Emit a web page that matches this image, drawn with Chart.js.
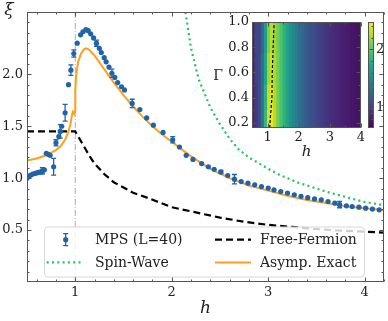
<!DOCTYPE html>
<html><head><meta charset="utf-8">
<script src="https://cdn.jsdelivr.net/npm/chart.js@4/dist/chart.umd.min.js"></script>
<style>
html,body{margin:0;padding:0;background:#fff;}
#wrap{position:relative;width:388px;height:321px;overflow:hidden;}
#wrap canvas{position:absolute;left:0;top:0;}
</style></head><body>
<div id="wrap">
<canvas id="main" width="388" height="321"></canvas>
<canvas id="inset" width="388" height="321"></canvas>
<canvas id="cbar" width="388" height="321"></canvas>
</div>
<script>
// ---------------- DATA ----------------
const xTicks = [1, 2, 3, 4];
const yTicks = [0.5, 1.0, 1.5, 2.0];
const refLineH = [1];

const mpsH = [0.50,0.52,0.54,0.56,0.58,0.60,0.62,0.64,0.66,0.68,
  0.70,0.72,0.74,0.776,0.80,0.83,0.845,0.86,0.895,0.93,
  0.955,0.985,1.02,1.055,1.08,1.11,1.135,1.16,1.19,1.22,
  1.25,1.27,1.30,1.32,1.35,1.38,1.41,1.44,1.48,1.51,
  1.59,1.67,1.74,1.81,1.91,2.01,2.08,
  2.15,2.22,2.31,2.38,2.44,2.51,2.58,2.65,2.72,2.79,
  2.86,2.93,3.00,3.06,3.13,3.20,3.27,3.34,3.41,3.48,
  3.55,3.62,3.69,3.74,3.81,3.87,3.94,4.01,4.08,4.15];
const mpsXi = [1.00,1.02,1.03,1.04,1.045,1.05,1.055,1.06,1.07,1.08,
  1.24,1.23,1.22,1.11,1.34,1.40,1.45,1.50,1.63,1.90,
  2.04,2.20,2.30,2.38,2.41,2.43,2.42,2.39,2.35,2.30,
  2.25,2.21,2.16,2.12,2.07,2.01,1.97,1.92,1.88,1.85,
  1.72,1.66,1.58,1.51,1.44,1.37,1.30,
  1.22,1.18,1.14,1.11,1.085,1.06,1.025,0.99,0.967,0.952,
  0.936,0.919,0.904,0.887,0.871,0.856,0.84,0.825,0.812,0.80,
  0.791,0.775,0.76,0.745,0.734,0.727,0.721,0.711,0.702,0.695];
const mpsErr = [0,0,0,0,0,0,0,0,0.03,0,
  0,0,0,0.08,0.03,0,0.065,0,0.08,0,
  0.05,0.035,0,0,0,0,0,0,0,0.03,
  0,0,0,0,0,0.04,0,0,0,0,
  0.04,0,0,0,0,0.03,0,
  0,0,0,0,0,0.015,0,0.045,0,0,
  0,0,0,0,0,0,0,0,0,0,
  0,0,0,0.03,0,0,0,0,0,0];

const swH  = [2.10,2.15,2.20,2.28,2.40,2.50,2.60,2.70,2.80,3.00,3.12,3.30,3.60,3.80,4.00,4.20];
const swXi = [2.85,2.55,2.25,1.95,1.68,1.52,1.38,1.27,1.20,1.09,1.03,0.96,0.87,0.82,0.77,0.74];

const ffH  = [0.5,1.0,1.05,1.1,1.15,1.2,1.3,1.4,1.5,1.6,1.75,2.0,2.25,2.5,2.75,3.0,3.25,3.5,3.75,4.0,4.2];
const ffXi = [1.45,1.45,1.37,1.29,1.21,1.14,1.04,0.96,0.91,0.86,0.81,0.72,0.67,0.62,0.58,0.55,0.53,0.51,0.495,0.485,0.475];

const aeH  = [0.5,0.6,0.7,0.8,0.85,0.9,0.93,0.95,0.965,0.975,0.99,1.0,1.001,1.01,1.03,1.06,1.09,1.11,1.14,1.2,1.3,1.4,1.5,1.6,1.7,1.8,1.9,2.0,2.1,2.2,2.4,2.6,2.8,3.0,3.2,3.4,3.6,3.8,4.0,4.2];
const aeXi = [1.17,1.19,1.22,1.27,1.31,1.38,1.45,1.52,1.60,1.64,1.62,1.66,1.85,2.00,2.12,2.20,2.24,2.25,2.24,2.18,2.05,1.92,1.80,1.69,1.59,1.50,1.42,1.35,1.28,1.21,1.09,1.00,0.93,0.88,0.83,0.79,0.76,0.73,0.71,0.69];

// inset heat map: column centres in h, rows in Gamma
const heatH = [0.55,0.65,0.75,0.85,0.95,1.05,1.15,1.25,1.35,1.45,1.55,1.65,1.75,1.85,1.95,2.05,2.15,2.25,2.35,2.45,2.55,2.65,2.75,2.85,2.95,3.05,3.15,3.25,3.35,3.45,3.55,3.65,3.75,3.85,3.95];
const heatGammaEdges = [0.16,0.30,0.50,0.75,1.00];
const heatHead = [
  [0.85,0.95,1.05,1.35,1.85,2.35,2.42,2.25],
  [0.84,0.96,1.06,1.33,1.80,2.30,2.40,2.24],
  [0.83,1.00,1.05,1.30,1.72,2.20,2.33,2.22],
  [0.82,1.05,1.02,1.25,1.65,2.10,2.28,2.20]
];
const heatTail = [2.08,1.95,1.82,1.70,1.58,1.49,1.40,1.32,1.25,1.19,1.13,1.09,1.05,1.01,0.98,0.95,0.92,0.89,0.87,0.85,0.83,0.81,0.79,0.78,0.76,0.75,0.74];
const peakH = [1.07,1.09,1.11,1.14,1.15,1.18,1.21];
const peakG = [0.16,0.25,0.30,0.40,0.60,0.80,1.00];
const insetXTicks = [1,2,3,4];
const insetYTicks = [0.2,0.4,0.6,0.8,1.0];
const cbarTicks = [1,2];
const cMin = 0.65, cMax = 2.47;

// ---------------- STYLE ----------------
Chart.defaults.font.family = "'DejaVu Serif', serif";
Chart.defaults.color = '#222';
const C = {blue:'#1f63ab', green:'#22c35c', orange:'#ff9f1f', black:'#000', ref:'#b0b0b0', frame:'#555'};
const viridisStops = ['#440154','#482475','#414487','#355f8d','#2a788e','#21918c','#22a884','#44bf70','#7ad151','#bddf26','#fde725'];
function hex2rgb(h){return [1,3,5].map(i=>parseInt(h.substr(i,2),16));}
function viridis(v){
  let t=(v-cMin)/(cMax-cMin); t=Math.max(0,Math.min(1,t));
  const p=t*10, i=Math.min(9,Math.floor(p)), f=p-i;
  const a=hex2rgb(viridisStops[i]), b=hex2rgb(viridisStops[i+1]);
  return 'rgb('+a.map((c,k)=>Math.round(c+(b[k]-c)*f)).join(',')+')';
}
function pts(xs, ys){ return xs.map((x,i)=>({x:x, y:ys[i]})); }
function range(a,b,s){const r=[];for(let v=a;v<=b+1e-9;v+=s)r.push(Math.round(v*1000)/1000);return r;}

function frameTicks(id, cfg){
  return {id:id, afterDraw(chart){
    const ctx=chart.ctx, a=chart.chartArea, xs=chart.scales.x, ys=chart.scales.y;
    ctx.save(); ctx.strokeStyle=C.frame; ctx.lineWidth=1;
    const L=Math.round(a.left)+0.5, R=Math.round(a.right)-0.5, T=Math.round(a.top)+0.5, B=Math.round(a.bottom)-0.5;
    ctx.beginPath();
    const xt=(vals,len)=>vals.forEach(v=>{const p=Math.round(xs.getPixelForValue(v))+0.5;
      ctx.moveTo(p,B);ctx.lineTo(p,B-len); if(cfg.top){ctx.moveTo(p,T);ctx.lineTo(p,T+len);} });
    const yt=(vals,len)=>vals.forEach(v=>{const p=Math.round(ys.getPixelForValue(v))+0.5;
      if(cfg.left){ctx.moveTo(L,p);ctx.lineTo(L+len,p);} if(cfg.right){ctx.moveTo(R,p);ctx.lineTo(R-len,p);} });
    if(cfg.xMajor){xt(cfg.xMajor,4); xt(cfg.xMinor||[],2);}
    if(cfg.yMajor){yt(cfg.yMajor,4); yt(cfg.yMinor||[],2);}
    ctx.stroke();
    ctx.strokeRect(L,T,R-L,B-T);
    ctx.restore();
  }};
}

// error bars through the scales
const errorBars = {id:'errorBars', afterDatasetsDraw(chart){
  const ctx=chart.ctx, xs=chart.scales.x, ys=chart.scales.y;
  chart.data.datasets.forEach(ds=>{
    if(!ds.errs) return;
    ctx.save(); ctx.strokeStyle=ds.pointBackgroundColor; ctx.lineWidth=1.3; ctx.beginPath();
    ds.data.forEach((p,i)=>{const e=ds.errs[i]; if(!e) return;
      const x=xs.getPixelForValue(p.x), y1=ys.getPixelForValue(p.y-e), y2=ys.getPixelForValue(p.y+e);
      ctx.moveTo(x,y1);ctx.lineTo(x,y2);ctx.moveTo(x-2.5,y1);ctx.lineTo(x+2.5,y1);ctx.moveTo(x-2.5,y2);ctx.lineTo(x+2.5,y2);});
    ctx.stroke(); ctx.restore();
  });
}};

// matplotlib-like legend (2 columns)
const mplLegend = {id:'mplLegend', afterDatasetsDraw(chart){
  const ctx=chart.ctx, a=chart.chartArea;
  const x0=a.left+17, y0=a.bottom-55.5, w=320, h=50;
  ctx.save();
  ctx.fillStyle='rgba(255,255,255,0.8)'; ctx.strokeStyle='#d6d6d6'; ctx.lineWidth=1;
  ctx.beginPath(); ctx.roundRect(x0+0.5,y0+0.5,w,h,4); ctx.fill(); ctx.stroke();
  const items=chart.data.datasets.filter(d=>d.legendSlot!==undefined).sort((p,q)=>p.legendSlot-q.legendSlot);
  const colX=[a.left+19.7, a.left+188], txtX=[a.left+68, a.left+233], rowY=[a.bottom-42.3, a.bottom-19.6];
  items.forEach((d,k)=>{
    const col=Math.floor(k/2), row=k%2, hx=colX[col], y=rowY[row];
    ctx.save();
    if(d.errs){
      const cx=hx+19; ctx.strokeStyle=d.pointBackgroundColor; ctx.lineWidth=1.3; ctx.beginPath();
      ctx.moveTo(cx,y-6);ctx.lineTo(cx,y+6);ctx.moveTo(cx-2.5,y-6);ctx.lineTo(cx+2.5,y-6);ctx.moveTo(cx-2.5,y+6);ctx.lineTo(cx+2.5,y+6);ctx.stroke();
      ctx.fillStyle=d.pointBackgroundColor; ctx.beginPath(); ctx.arc(cx,y,2.6,0,Math.PI*2); ctx.fill();
    } else {
      ctx.strokeStyle=d.borderColor; ctx.lineWidth=d.borderWidth; ctx.setLineDash(d.borderDash||[]);
      ctx.beginPath(); ctx.moveTo(hx,y); ctx.lineTo(hx+36,y); ctx.stroke();
    }
    ctx.restore();
    ctx.fillStyle='#222'; ctx.font="14px 'DejaVu Serif'"; ctx.textBaseline='middle'; ctx.textAlign='left';
    ctx.fillText(d.label, txtX[col], y+0.5);
  });
  ctx.restore();
}};

const mainLabels = {id:'mainLabels', afterDraw(chart){
  const ctx=chart.ctx, a=chart.chartArea;
  ctx.save(); ctx.fillStyle='#222'; ctx.textAlign='center'; ctx.textBaseline='alphabetic';
  ctx.font="italic 17px 'DejaVu Serif'";
  ctx.fillText('ξ', a.left-18, a.top+3);
  ctx.fillText('h', (a.left+a.right)/2, a.bottom+31);
  ctx.restore();
}};

const tickFont = {family:"'DejaVu Serif', serif", size:13};
const noGrid = {display:false, drawTicks:false, tickLength:0};

// ---------------- MAIN CHART ----------------
new Chart(document.getElementById('main'), {
  type:'line',
  data:{datasets:[
    {label:'MPS (L=40)', legendSlot:0, data:pts(mpsH,mpsXi), errs:mpsErr, showLine:false,
     pointRadius:2.6, pointBackgroundColor:C.blue, pointBorderWidth:0, order:0},
    {label:'Spin-Wave', legendSlot:1, data:pts(swH,swXi), borderColor:C.green, borderWidth:2.2,
     borderDash:[2,3.3], pointRadius:0, order:3},
    {label:'Free-Fermion', legendSlot:2, data:pts(ffH,ffXi), borderColor:C.black, borderWidth:2.2,
     borderDash:[7,4], pointRadius:0, order:2},
    {label:'Asymp. Exact', legendSlot:3, data:pts(aeH,aeXi), borderColor:C.orange, borderWidth:2,
     pointRadius:0, order:1},
    {label:'ref', data:[{x:refLineH[0],y:0},{x:refLineH[0],y:2.6}], borderColor:C.ref, borderWidth:1,
     borderDash:[6,2,1,2], pointRadius:0, order:5}
  ]},
  options:{
    responsive:false, animation:false, events:[],
    layout:{padding:{left:0,right:3,top:12,bottom:0}},
    plugins:{legend:{display:false}, tooltip:{enabled:false}},
    scales:{
      x:{type:'linear', min:0.5, max:4.2, grid:noGrid, border:{display:false},
         afterBuildTicks:s=>{s.ticks=xTicks.map(v=>({value:v}));},
         afterFit:s=>{s.height=39;},
         ticks:{font:tickFont, color:'#222', padding:3, maxRotation:0, autoSkip:false, callback:v=>String(v)}},
      y:{type:'linear', min:0, max:2.6, grid:noGrid, border:{display:false},
         afterBuildTicks:s=>{s.ticks=yTicks.map(v=>({value:v}));},
         afterFit:s=>{s.width=27;},
         ticks:{font:tickFont, color:'#222', padding:4, autoSkip:false, callback:v=>v.toFixed(1)}}
    }
  },
  plugins:[errorBars, mplLegend,
    frameTicks('mainFrame',{top:true,left:true,right:true,xMajor:xTicks,xMinor:range(0.6,4.2,0.2).filter(v=>!xTicks.includes(v)),
      yMajor:yTicks,yMinor:range(0.1,2.5,0.1).filter(v=>!yTicks.some(t=>Math.abs(t-v)<1e-6))}),
    mainLabels]
});

// ---------------- INSET HEAT MAP ----------------
const heatSets = heatHead.map((head,r)=>{
  const vals = head.concat(heatTail);
  return {type:'bar', grouped:false, barPercentage:1, categoryPercentage:1, borderWidth:0, inflateAmount:0.6,
    data: heatH.map(h=>({x:h, y:[heatGammaEdges[r], heatGammaEdges[r+1]]})),
    backgroundColor: vals.map(viridis), order:2};
});
heatSets.push({type:'line', data:pts(peakH,peakG), borderColor:'#000', borderWidth:1.2, borderDash:[3,2],
  pointRadius:0, order:0});

const insetLabels = {id:'insetLabels', afterDraw(chart){
  const ctx=chart.ctx, a=chart.chartArea;
  ctx.save(); ctx.fillStyle='#222'; ctx.textAlign='center';
  ctx.font="14px 'DejaVu Serif'"; ctx.textBaseline='middle';
  ctx.fillText('Γ', a.left-34, (a.top+a.bottom)/2+1);
  ctx.font="italic 15px 'DejaVu Serif'"; ctx.textBaseline='alphabetic';
  ctx.fillText('h', (a.left+a.right)/2, a.bottom+28);
  ctx.restore();
}};

new Chart(document.getElementById('inset'), {
  type:'bar',
  data:{datasets:heatSets},
  options:{
    responsive:false, animation:false, events:[],
    layout:{padding:{left:222,right:27,top:22,bottom:173}},
    plugins:{legend:{display:false}, tooltip:{enabled:false}},
    scales:{
      x:{type:'linear', min:0.5, max:4.0, offset:false, grid:noGrid, border:{display:false},
         afterBuildTicks:s=>{s.ticks=insetXTicks.map(v=>({value:v}));},
         afterFit:s=>{s.height=20;},
         ticks:{font:tickFont, color:'#222', padding:2, maxRotation:0, autoSkip:false, callback:v=>String(v)}},
      y:{type:'linear', min:0.16, max:1.0, grid:noGrid, border:{display:false},
         afterBuildTicks:s=>{s.ticks=insetYTicks.map(v=>({value:v}));},
         afterFit:s=>{s.width=30;},
         ticks:{font:tickFont, color:'#222', padding:3, autoSkip:false, callback:v=>v.toFixed(1)}}
    }
  },
  plugins:[frameTicks('insetFrame',{top:true,left:true,right:true,xMajor:insetXTicks,xMinor:[1.5,2.5,3.5],
    yMajor:insetYTicks,yMinor:[0.3,0.5,0.7,0.9]}), insetLabels]
});

// ---------------- COLOUR BAR ----------------
const cbarFill = {id:'cbarFill', beforeDatasetsDraw(chart){
  const ctx=chart.ctx, a=chart.chartArea, ys=chart.scales.y;
  const g=ctx.createLinearGradient(0,ys.getPixelForValue(cMin),0,ys.getPixelForValue(cMax));
  viridisStops.forEach((c,i)=>g.addColorStop(i/10,c));
  ctx.save(); ctx.fillStyle=g; ctx.fillRect(a.left,a.top,a.right-a.left,a.bottom-a.top); ctx.restore();
}};
new Chart(document.getElementById('cbar'), {
  type:'line',
  data:{datasets:[{data:[]}]},
  options:{
    responsive:false, animation:false, events:[],
    layout:{padding:{left:368,right:2,top:22,bottom:193}},
    plugins:{legend:{display:false}, tooltip:{enabled:false}},
    scales:{
      x:{type:'linear', min:0, max:1, display:false},
      y:{type:'linear', position:'right', min:cMin, max:cMax, grid:noGrid, border:{display:false},
         afterBuildTicks:s=>{s.ticks=cbarTicks.map(v=>({value:v}));},
         afterFit:s=>{s.width=12;},
         ticks:{font:tickFont, color:'#222', padding:2, autoSkip:false, callback:v=>String(v)}}
    }
  },
  plugins:[cbarFill, frameTicks('cbarFrame',{right:true,yMajor:cbarTicks,yMinor:[0.8,0.9,1.2,1.4,1.6,1.8,2.2,2.4]})]
});
</script>
</body></html>
